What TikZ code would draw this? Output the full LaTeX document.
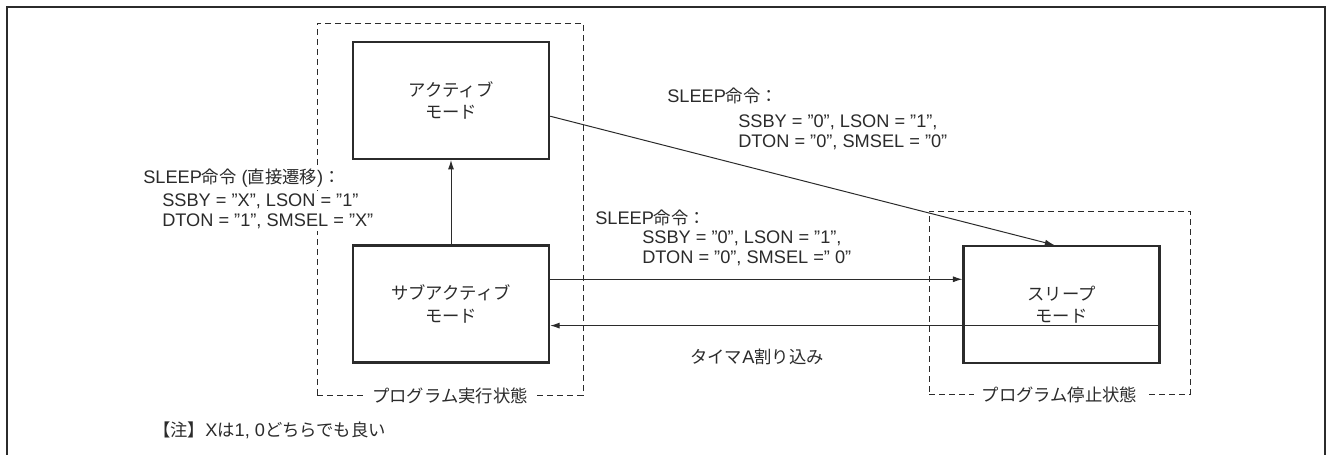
\documentclass[tikz,border=0pt]{standalone}
\usepackage{fontspec}
\setmainfont{Liberation Sans}[Scale=1.05]
\newfontfamily\jp{Noto Sans CJK JP}
\usepackage{tikz}
\usetikzlibrary{positioning,calc,arrows.meta}
\definecolor{ink}{HTML}{2B2B2B}
\tikzstyle{mode}=[rectangle, draw=ink, line width=1.8pt, minimum width=147pt, minimum height=87.5pt, align=center, font=\jp\fontsize{13pt}{17pt}\selectfont]
\tikzstyle{state}=[rectangle, draw=ink, dashed, dash pattern=on 4.5pt off 3pt, line width=0.7pt]
\tikzstyle{statelbl}=[fill=white, inner xsep=6pt, inner ysep=1pt, font=\jp\fontsize{13pt}{15.5pt}\selectfont]
\tikzstyle{txt}=[inner sep=0pt, anchor=west, align=left]
\tikzstyle{trans}=[draw=ink, line width=0.75pt, -{Latex[length=7pt,width=4.5pt]}]

\begin{document}
\begin{tikzpicture}[text=ink, font=\fontsize{13pt}{15pt}\selectfont]
					\pgfsetxvec{\pgfpoint{0.75pt}{0pt}}
					\pgfsetyvec{\pgfpoint{0pt}{-0.75pt}}
					\useasboundingbox (0,0) rectangle (1326,454);
					\draw[ink, line width=2pt] (7,480) -- (7,7) -- (1325,7) -- (1325,480);
					% state groups
					\node[state, minimum width=199.5pt, minimum height=279pt] at (450,209) (exec) {};
					\node[state, minimum width=195.75pt, minimum height=137.25pt] at (1059.5,302.5) (halt) {};
					\node[statelbl] at (exec.south) (execlbl) {プログラム実行状態};
					\node[statelbl] at (halt.south) (haltlbl) {プログラム停止状態};
					% modes
					\node[mode] at (451,100.5) (active) {アクティブ\\モード};
					\node[mode] at (451,304) (subactive) {サブアクティブ\\モード};
					\node[mode] at (1061.5,304.5) (sleep) {スリープ\\モード};
					% transitions
					\draw[trans] (subactive) -- (active);
					\draw[trans] (active.-9) -- (sleep.97);
					\draw[trans] (subactive.14) -- (subactive.14 -| sleep.west);
					\draw[trans] (sleep.-12) -- (sleep.-12 -| subactive.east);
					% labels
					\node[txt, fill=white, inner ysep=2pt] at (143,178) (direct) {SLEEP{\jp 命令} ({\jp 直接遷移}){\jp ：}};
					\node[txt, fill=white, inner ysep=2pt] at (162,211) (directbits) {SSBY = "X", LSON = "1"\\DTON = "1", SMSEL = "X"};
					\node[txt] at (667,96) (tosleep) {SLEEP{\jp 命令}{\jp ：}};
					\node[txt] at (738,132) (tosleepbits) {SSBY = "0", LSON = "1",\\DTON = "0", SMSEL = "0"};
					\node[txt] at (595,218) (subsleep) {SLEEP{\jp 命令}{\jp ：}};
					\node[txt] at (642,248) (subsleepbits) {SSBY = "0", LSON = "1",\\DTON = "0", SMSEL =" 0"};
					\node[txt] at (690,357) (timera) {{\jp タイマ}A{\jp 割り込み}};
					\node[txt] at (153,430) (note) {{\jp 【注】}X{\jp は}1, 0{\jp どちらでも良い}};
				\end{tikzpicture}
\end{document}
